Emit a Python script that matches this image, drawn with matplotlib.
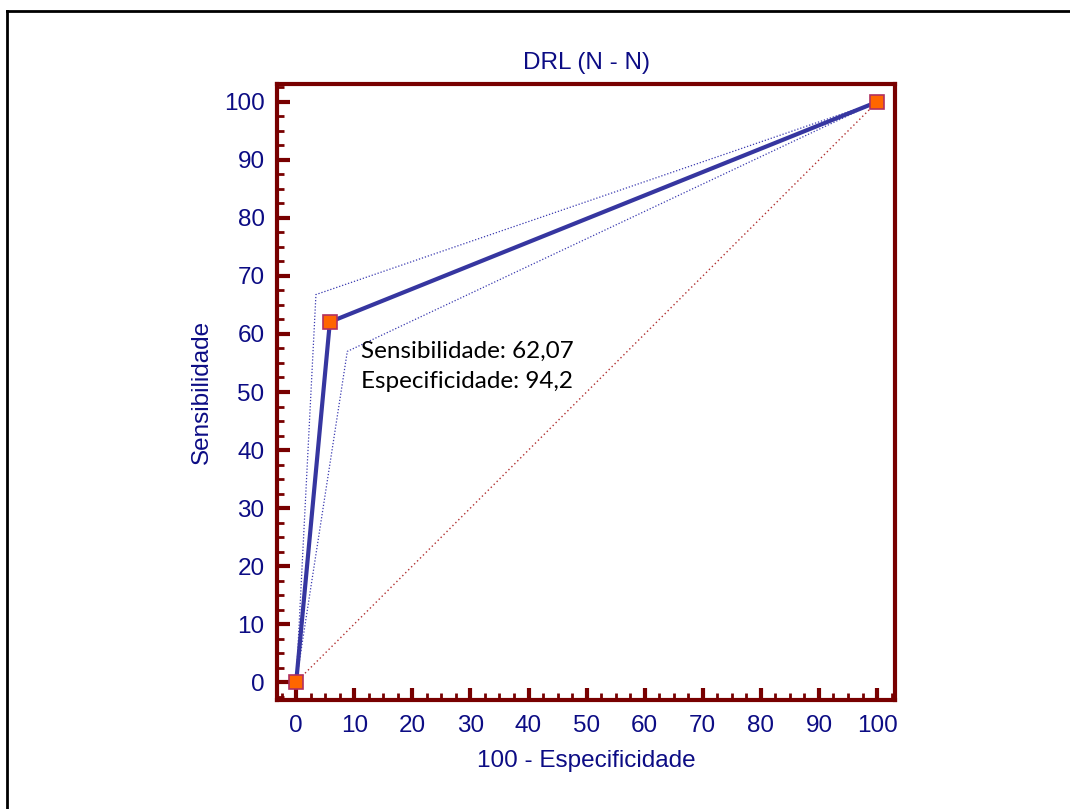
import numpy as np
import matplotlib.pyplot as plt
from matplotlib.lines import Line2D
from matplotlib.ticker import MultipleLocator

# ROC curve DRL (N - N)
fpr = [0, 5.8, 100]          # 100 - especificidade
sens = [0, 62.07, 100]       # sensibilidade
ci_upper_x = [0, 3.4, 100]
ci_upper_y = [0, 66.8, 100]
ci_lower_x = [0, 8.8, 100]
ci_lower_y = [0, 57.0, 100]
ticks = np.arange(0, 101, 10)

navy = "#0c0c84"
spine_red = "#780000"

plt.rcParams['font.family'] = ['Liberation Sans', 'DejaVu Sans']

fig = plt.figure(figsize=(10.7, 8.09), dpi=100)
ax = fig.add_axes([0.2589, 0.1347, 0.5776, 0.7615])

# diagonal reference
ax.plot([0, 100], [0, 100], color="#b03030", lw=1, ls=(0, (1, 2)))
# confidence bounds
ax.plot(ci_upper_x, ci_upper_y, color="#3a3ab0", lw=0.9, ls=(0, (1, 1.5)))
ax.plot(ci_lower_x, ci_lower_y, color="#3a3ab0", lw=0.9, ls=(0, (1, 1.5)))
# curve
ax.plot(fpr, sens, color="#3636a0", lw=3, solid_capstyle="round")
ax.plot(fpr, sens, ls="none", marker="s", ms=10, mfc="#ff6600",
        mec="#b03060", mew=1.2)

ax.text(11.2, 54.4, "Sensibilidade: 62,07\nEspecificidade: 94,2",
        fontsize=17.5, family=['Lato', 'DejaVu Sans'], color="black",
        va="center", ha="left", linespacing=1.5)

ax.set_xlim(-3.3, 103.1)
ax.set_ylim(-3.1, 103.1)
ax.set_xticks(ticks)
ax.set_yticks(ticks)
ax.xaxis.set_minor_locator(MultipleLocator(2.5))
ax.yaxis.set_minor_locator(MultipleLocator(2.5))

for s in ax.spines.values():
    s.set_color(spine_red)
    s.set_linewidth(3)
ax.tick_params(which="major", direction="in", length=9, width=3,
               color=spine_red, labelcolor=navy, labelsize=17.5)
ax.tick_params(which="minor", direction="in", length=5, width=2,
               color=spine_red)
ax.tick_params(axis="x", pad=11)
ax.tick_params(axis="y", pad=9)

ax.set_title("DRL (N - N)", color=navy, fontsize=17.5, pad=11)
ax.set_xlabel("100 - Especificidade", color=navy, fontsize=17.5, labelpad=9)
ax.set_ylabel("Sensibilidade", color=navy, fontsize=17.5, labelpad=8)

# outer frame
fig.add_artist(Line2D([7 / 1070, 7 / 1070], [0, 1 - 11 / 809],
                      transform=fig.transFigure, color="black", lw=2))
fig.add_artist(Line2D([7 / 1070, 1], [1 - 11 / 809, 1 - 11 / 809],
                      transform=fig.transFigure, color="black", lw=2))

fig.savefig("out.png", dpi=100)
